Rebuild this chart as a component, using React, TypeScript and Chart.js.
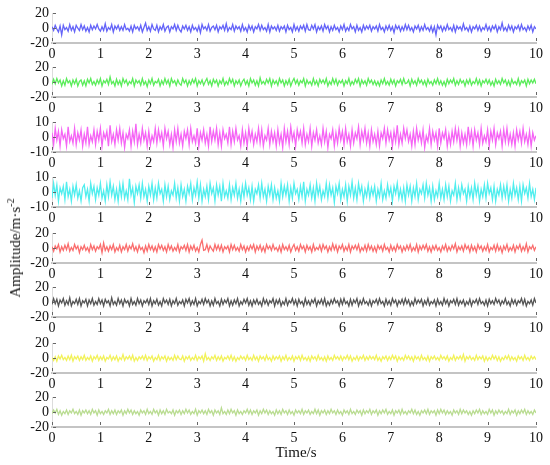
import React, { useEffect, useRef } from "react";
import { Chart, registerables } from "chart.js";

Chart.register(...registerables);

const timeStep = 1 / 30;
const xTicks = [0, 1, 2, 3, 4, 5, 6, 7, 8, 9, 10];
const seriesNames = ["s1", "s2", "s3", "s4", "s5", "s6", "s7", "s8"];
const yLimits = [20, 20, 10, 10, 20, 20, 20, 20];
const panelTops = [12, 66, 121, 176, 232, 286, 342, 396];
const colors = [
  "rgb(100,100,248)",
  "rgb(90,236,90)",
  "rgb(245,100,245)",
  "rgb(80,238,238)",
  "rgb(250,110,110)",
  "rgb(85,85,85)",
  "rgb(242,242,90)",
  "rgb(185,220,145)",
];

const s1 = [
  2,-3,4,-1,-5,3,-9,4,-2,1,-4,5,-3,2,-5,4,0,-3,5,-2,
  3,-4,1,-5,4,-2,3,-1,5,-1,-4,2,-3,6,-4,1,-2,5,-5,3,
  -1,4,-3,2,-3,5,-2,0,-4,3,-5,4,-1,2,-3,4,-5,1,7,-3,
  2,-4,5,-1,-3,4,-5,2,-2,5,-4,1,3,-5,2,-1,5,-3,4,-2,
  -5,3,-1,4,-3,2,-5,4,-2,1,-4,3,-6,5,-1,2,-3,5,-4,1,
  3,-2,4,-5,2,-1,4,-3,6,-4,1,-2,5,-4,3,-1,2,-4,5,-3,
  1,-5,4,-2,3,-5,2,-1,5,-3,4,-2,1,-4,5,-5,3,-1,2,-3,
  4,-4,2,-1,3,-5,4,-2,1,-5,5,-3,2,-4,3,-1,4,-4,5,-2,
  -3,4,-1,5,-5,2,-2,3,-4,5,-1,3,-5,2,-3,4,-2,1,-5,3,
  -2,5,-4,1,-3,5,-1,2,-5,4,-3,1,-5,4,-2,3,-1,4,-4,2,
  -1,3,-4,5,-2,1,-5,3,-2,4,-3,2,-6,4,-1,3,-4,2,-3,5,
  -2,4,-3,1,-5,3,-1,4,-4,2,-3,5,-2,1,-4,3,-5,2,-9,4,
  -1,3,-4,2,-3,5,-2,1,-4,4,-5,3,-1,2,-3,6,-2,1,-4,3,
  -5,2,-1,4,-3,3,-4,1,-2,5,-3,2,-4,3,-1,4,-5,2,-2,7,
  -3,1,-4,4,-2,3,-5,2,-1,4,-3,5,-2,1,-4,3,-2,4,-5,2,
  -1,
];
const s2 = [
  -3,4,-2,5,-1,3,-5,2,-4,5,-1,2,-5,3,-2,4,-5,1,3,-4,
  2,-5,4,-1,5,-3,1,-4,3,-2,5,-5,2,-1,4,-3,7,-2,1,-5,
  4,-3,2,-5,5,-1,3,-4,1,-2,5,-5,3,-1,2,-4,5,-3,1,-6,
  3,-2,5,-4,1,-1,4,-5,2,-3,5,-2,3,-5,5,-1,2,-4,3,-2,
  -4,5,-1,3,-5,2,-3,4,-1,5,-5,2,-2,3,-4,1,5,-3,2,-5,
  4,-1,3,-5,2,-2,5,-4,1,-3,5,-1,4,-5,2,-2,3,-5,1,4,
  -3,2,-5,5,-1,3,-4,2,-5,6,-2,1,-3,4,-1,5,-5,3,-2,2,
  -4,5,-1,3,-5,2,-3,4,-5,1,5,-2,3,-4,2,-1,5,-5,3,-2,
  1,-4,5,-3,2,-5,4,-1,3,-2,5,-5,1,-3,5,-2,4,-4,2,-1,
  3,-5,2,-2,5,-4,1,-3,4,-1,5,-5,3,-2,2,-4,5,-1,3,-3,
  2,-4,1,-5,3,-2,5,-3,1,-4,4,-2,3,-5,2,-1,4,-3,5,-2,
  -1,3,-5,4,-2,2,-4,5,-1,3,-3,2,-5,4,-2,1,-4,3,-2,5,
  -3,2,-4,1,-5,4,-2,3,-1,5,-4,2,-3,4,-1,2,-5,3,-2,4,
  -4,1,-2,5,-3,3,-5,2,-1,4,-2,3,-4,1,-5,4,-2,2,-3,5,
  -1,3,-4,2,-5,4,-2,1,-3,5,-4,2,-1,3,-5,4,-2,3,-1,4,
  -2,
];
const s3 = [
  3,-5,6,-2,4,-6,5,-1,2,-6,7,-3,1,-4,6,-5,3,-2,5,-6,
  2,-4,7,-5,1,-3,5,-5,4,-2,6,-6,3,-1,4,-6,8,-3,2,-5,
  5,-2,6,-4,3,-7,2,-1,5,-6,4,-3,9,-5,2,-4,6,-2,3,-6,
  4,-5,1,-3,6,-4,5,-2,3,-6,6,-1,4,-5,2,-7,5,-3,6,-4,
  2,-6,4,-1,5,-5,6,-3,1,-4,6,-6,3,-2,5,-4,2,-6,7,-3,
  4,-2,6,-5,3,-6,5,-1,2,-4,7,-5,4,-3,6,-2,1,-6,5,-4,
  3,-6,6,-2,4,-5,2,-3,6,-4,5,-6,1,-2,6,-5,4,-3,3,-6,
  5,-4,2,-7,6,-3,4,-5,7,-2,3,-6,5,-1,4,-4,6,-5,2,-3,
  6,-6,3,-2,5,-4,1,-5,6,-3,4,-7,2,-1,5,-6,3,-4,6,-2,
  4,-5,6,-3,2,-6,5,-4,3,-1,7,-5,4,-2,6,-4,3,-6,5,-3,
  2,-5,4,-6,3,-1,6,-4,5,-2,3,-6,4,-3,8,-5,2,-4,6,-1,
  5,-3,2,-6,4,-5,6,-2,3,-4,5,-7,1,-3,6,-5,4,-2,3,-6,
  6,-4,3,-1,5,-6,2,-5,4,-3,6,-2,5,-6,3,-4,2,-5,7,-3,
  4,-6,5,-2,3,-5,6,-4,1,-3,5,-6,4,-2,6,-5,3,-1,4,-6,
  5,-3,6,-4,2,-5,3,-6,5,-2,4,-4,6,-3,2,-5,4,-6,3,-2,
  1,
];
const s4 = [
  -4,6,-2,5,-6,3,-1,4,-5,7,-3,2,-6,4,-2,5,-4,1,-6,3,
  5,-3,2,-6,6,-1,4,-5,3,-2,6,-4,1,-6,5,-3,7,-2,4,-5,
  2,-6,5,-3,6,-4,1,-5,9,-2,3,-7,4,-1,5,-4,6,-3,2,-6,
  4,-2,6,-5,3,-4,6,-1,2,-6,5,-3,4,-5,1,-2,6,-4,3,-6,
  5,-3,2,-6,4,-1,6,-5,3,-2,7,-4,5,-6,2,-3,4,-5,6,-1,
  3,-6,5,-2,4,-6,6,-3,1,-4,5,-5,3,-2,6,-4,2,-6,4,-3,
  6,-2,3,-5,4,-6,2,-1,5,-4,6,-3,2,-6,4,-2,5,-5,3,-4,
  1,-6,6,-3,4,-2,5,-6,3,-4,6,-1,2,-5,4,-3,7,-6,2,-2,
  5,-4,3,-6,6,-2,4,-5,1,-3,6,-4,5,-2,3,-7,4,-1,6,-5,
  2,-3,5,-6,4,-2,7,-4,3,-5,6,-1,4,-6,2,-3,5,-4,3,-2,
  4,-6,2,-3,6,-5,1,-4,5,-2,3,-6,4,-1,6,-4,2,-5,3,-6,
  5,-2,4,-6,3,-3,6,-5,2,-1,5,-4,6,-2,3,-6,4,-5,1,-3,
  6,-4,2,-5,5,-3,4,-6,1,-2,6,-5,3,-4,5,-1,2,-6,4,-3,
  3,-5,6,-2,4,-6,2,-3,5,-4,6,-1,3,-5,4,-6,2,-2,5,-4,
  4,-3,5,-6,2,-4,6,-2,3,-5,4,-6,5,-1,3,-4,6,-3,2,-5,
  3,
];
const s5 = [
  2,-4,3,-1,5,-5,2,-3,4,-2,6,-4,1,-3,5,-1,3,-6,2,-2,
  4,-3,1,-5,5,-2,3,-4,2,-1,5,-6,7,-3,2,-4,3,-2,5,-5,
  1,-3,4,-5,2,-2,5,-4,3,-1,6,-3,2,-5,4,-2,1,-6,3,-4,
  5,-2,3,-4,2,-5,5,-1,4,-3,2,-5,5,-2,3,-4,1,-3,5,-5,
  2,-1,4,-3,5,-5,3,-2,4,-4,1,-5,5,11,-3,-2,5,-4,3,-1,
  -4,5,-2,4,-3,4,-5,2,-1,3,-5,5,-2,4,-3,1,-4,5,-2,3,
  -5,2,-3,4,-1,5,-5,3,-2,4,-4,2,-5,5,-1,3,-3,5,-2,1,
  -4,3,-5,5,-2,2,-3,4,-5,1,5,-3,2,-4,5,-1,3,-5,4,-2,
  2,-5,5,-3,1,-2,4,-4,5,-1,3,-5,2,-3,6,-2,4,-5,3,-1,
  5,-4,2,-3,5,-5,3,-1,4,-2,5,-5,1,-3,4,-4,5,-2,3,-4,
  2,-5,4,-1,3,-4,5,-2,1,-5,4,-3,2,-4,5,-1,3,-5,2,-3,
  4,-2,5,-4,1,-3,5,-5,3,-2,4,-1,5,-4,2,-5,3,-2,4,-3,
  1,-5,3,-2,5,-4,2,-3,4,-1,6,-5,2,-2,3,-4,5,-1,3,-5,
  4,-3,2,-5,5,-1,3,-4,2,-3,5,-5,1,-2,4,-4,5,-3,2,-6,
  3,-2,5,-4,1,-3,4,-5,3,-1,5,-4,2,-3,6,-5,2,-1,4,-3,
  2,
];
const s6 = [
  -3,5,-2,4,-5,3,-1,5,-4,2,-3,6,-5,1,-2,4,-3,5,-5,2,
  -1,4,-5,3,-2,5,-4,1,-3,5,-2,3,-5,4,-1,2,-5,6,-3,1,
  -4,5,-2,3,-5,4,-1,2,-5,5,-3,1,-4,5,-2,3,-5,2,-1,4,
  -3,5,-5,2,-2,4,-4,1,-5,5,-1,3,-3,4,-5,2,-2,5,-4,1,
  -2,3,-5,4,-1,5,-4,2,-3,5,-5,1,-2,4,-3,5,-1,3,-5,2,
  -4,5,-2,1,-5,4,-3,3,-1,5,-5,2,-4,3,-2,5,-5,1,-3,4,
  -1,5,-4,2,-5,3,-2,4,-3,1,-5,5,-2,3,-4,2,-1,5,-5,3,
  -2,4,-5,1,-3,5,-4,2,-1,5,-3,3,-5,4,-2,1,-5,5,-3,2,
  -4,3,-1,5,-5,2,-2,4,-3,5,-5,1,-4,3,-2,5,-1,2,-5,4,
  -3,5,-2,1,-5,4,-4,3,-1,5,-5,2,-3,5,-2,1,-4,3,-5,2,
  -1,4,-3,5,-2,1,-5,4,-3,2,-4,5,-1,3,-5,2,-2,4,-3,5,
  -2,3,-5,1,-4,5,-2,3,-1,4,-5,2,-3,5,-4,1,-2,3,-5,4,
  -3,1,-4,5,-2,3,-5,2,-1,4,-3,5,-4,2,-2,3,-5,1,-3,4,
  -5,2,-1,4,-3,5,-2,1,-4,3,-5,4,-2,2,-3,5,-1,3,-4,2,
  -2,5,-3,1,-5,4,-2,3,-4,2,-1,5,-3,4,-5,1,-2,3,-4,5,
  -1,
];
const s7 = [
  1,-3,2,-4,3,-1,4,-2,1,-3,3,-2,4,-4,2,-1,3,-3,2,-2,
  4,-3,1,-2,3,-4,2,-1,4,-3,2,-2,3,-4,1,-1,4,-3,2,-2,
  3,-4,1,-2,5,-3,2,-1,3,-2,4,-4,1,-3,2,-1,3,-2,4,-3,
  2,-1,3,-4,1,-2,4,-3,2,-1,3,-4,2,-2,1,-3,4,-2,3,-1,
  -2,3,-4,2,-1,3,-3,1,-2,4,-3,2,-1,3,-4,6,-2,1,-3,2,
  -1,4,-3,2,-2,3,-4,1,-1,3,-2,4,-3,2,-4,1,-2,3,-1,2,
  -3,4,-2,1,-3,4,-2,2,-4,3,-1,2,-3,4,-2,1,-4,3,-2,2,
  -1,3,-4,2,-2,4,-3,1,-2,3,-4,2,-1,3,-3,4,-2,1,-3,2,
  -4,3,-1,2,-3,4,-2,1,-3,2,-4,3,-2,1,-3,4,-1,2,-2,3,
  -3,2,-1,4,-2,3,-4,1,-2,3,-3,2,-1,4,-3,2,-2,3,-1,2,
  -2,4,-3,1,-4,2,-1,3,-3,2,-2,4,-1,3,-4,2,-2,1,-3,4,
  -1,3,-2,2,-4,3,-1,2,-3,4,-2,1,-3,3,-4,2,-1,3,-2,1,
  -3,4,-1,2,-2,3,-4,1,-2,4,-3,2,-1,3,-2,5,-4,2,-1,3,
  -2,1,-3,4,-2,2,-1,3,-4,2,-3,1,-2,4,-1,3,-3,2,-4,1,
  -2,3,-1,4,-3,2,-2,1,-4,3,-1,2,-3,4,-2,1,-3,3,-1,2,
  -2,
];
const s8 = [
  -2,3,-1,4,-3,2,-4,1,-2,3,-3,2,-1,4,-2,1,-3,3,-4,2,
  -1,3,-2,2,-3,4,-1,2,-4,3,-2,1,-3,2,-1,4,-3,2,-2,3,
  -3,2,-1,3,-4,2,-2,4,-1,3,-3,2,-2,1,-4,3,-1,2,-3,4,
  -2,1,-3,4,-1,2,-4,3,-2,2,-3,4,-1,1,-2,3,-4,2,-1,3,
  -3,2,-2,4,-1,3,-3,1,-2,4,-4,2,-1,3,-2,2,-3,4,-1,2,
  -4,3,-1,2,-3,6,-2,1,-3,3,-2,4,-1,2,-4,3,-2,1,-3,2,
  -1,4,-2,3,-3,2,-1,3,-4,2,-2,4,-1,3,-3,2,-2,1,-4,3,
  -2,2,-3,4,-1,2,-3,3,-2,1,-4,3,-1,2,-2,4,-3,2,-1,3,
  -3,1,-2,4,-2,3,-4,2,-1,3,-3,2,-2,4,-1,2,-3,3,-2,1,
  -4,3,-1,2,-3,4,-2,1,-3,3,-1,2,-4,3,-2,2,-1,4,-3,2,
  -1,3,-4,2,-2,3,-1,4,-3,1,-2,3,-4,2,-1,3,-3,4,-2,1,
  -3,2,-1,4,-2,3,-3,1,-4,2,-1,3,-2,4,-3,2,-1,2,-4,3,
  -2,4,-1,3,-3,2,-2,1,-4,3,-1,2,-3,4,-2,3,-1,2,-3,1,
  -4,2,-2,3,-1,4,-3,2,-2,1,-3,4,-1,3,-4,2,-2,3,-1,2,
  -3,1,-2,4,-3,2,-1,3,-4,2,-2,3,-1,4,-3,2,-2,1,-3,3,
  -1,
];
const allSeries = [s1, s2, s3, s4, s5, s6, s7, s8];

const FONT = "'Liberation Serif', 'Times New Roman', serif";
const PAD_TOP = 10;
const PLOT_H = 31;
const XAXIS_H = 20;
const CANVAS_H = PAD_TOP + PLOT_H + XAXIS_H;

const innerTicks = {
  id: "innerTicks",
  afterDraw(chart: any) {
    const { ctx, chartArea, scales } = chart;
    const xs = scales.x;
    const ys = scales.y;
    ctx.save();
    ctx.strokeStyle = "#666";
    ctx.lineWidth = 1;
    ctx.beginPath();
    xs.ticks.forEach((t: any) => {
      const px = Math.round(xs.getPixelForValue(t.value)) + 0.5;
      ctx.moveTo(px, chartArea.bottom - 2);
      ctx.lineTo(px, chartArea.bottom - 5);
    });
    ys.ticks.forEach((t: any) => {
      const py = Math.round(ys.getPixelForValue(t.value)) + 0.5;
      ctx.moveTo(chartArea.left + 1, py);
      ctx.lineTo(chartArea.left + 4, py);
    });
    ctx.stroke();
    ctx.restore();
  },
};

function Panel({ idx }: { idx: number }) {
  const ref = useRef<HTMLCanvasElement | null>(null);
  useEffect(() => {
    if (!ref.current) return;
    const series = allSeries[idx];
    const lim = yLimits[idx];
    const chart = new Chart(ref.current, {
      type: "line",
      data: {
        datasets: [
          {
            label: seriesNames[idx],
            data: series.map((v, i) => ({ x: i * timeStep, y: v })),
            borderColor: colors[idx],
            borderWidth: 1.3,
            pointRadius: 0,
            tension: 0,
            fill: false,
          },
        ],
      },
      options: {
        animation: false,
        responsive: false,
        devicePixelRatio: 1,
        events: [],
        layout: { padding: { top: PAD_TOP, right: 14, left: 0, bottom: 0 } },
        plugins: { legend: { display: false }, tooltip: { enabled: false } },
        scales: {
          x: {
            type: "linear",
            min: 0,
            max: 10,
            afterFit: (s: any) => {
              s.height = XAXIS_H;
            },
            afterBuildTicks: (s: any) => {
              s.ticks = xTicks.map((v) => ({ value: v }));
            },
            grid: { display: false, drawTicks: false },
            border: { display: true, color: "#c4c4c4", width: 2 },
            ticks: {
              padding: 3,
              maxRotation: 0,
              autoSkip: false,
              color: "#111",
              font: { family: FONT, size: 14 },
            },
          },
          y: {
            min: -lim,
            max: lim,
            afterFit: (s: any) => {
              s.width = 52;
            },
            afterBuildTicks: (s: any) => {
              s.ticks = [-lim, 0, lim].map((v) => ({ value: v }));
            },
            grid: { display: false, drawTicks: false },
            border: { display: true, color: "#dcdcdc", width: 1 },
            ticks: {
              padding: 3,
              autoSkip: false,
              color: "#111",
              font: { family: FONT, size: 14 },
            },
          },
        },
      },
      plugins: [innerTicks],
    } as any);
    return () => chart.destroy();
  }, [idx]);
  return (
    <canvas
      ref={ref}
      width={550}
      height={CANVAS_H}
      style={{
        position: "absolute",
        left: 0,
        top: panelTops[idx] - PAD_TOP,
        width: 550,
        height: CANVAS_H,
      }}
    />
  );
}

export default function App() {
  return (
    <div
      style={{
        position: "absolute",
        left: 0,
        top: 0,
        width: 550,
        height: 465,
        background: "#fff",
        overflow: "hidden",
        fontFamily: FONT,
      }}
    >
      {allSeries.map((_, i) => (
        <Panel key={i} idx={i} />
      ))}
      <div
        style={{
          position: "absolute",
          left: 13,
          top: 248,
          transform: "translate(-50%, -50%) rotate(-90deg)",
          whiteSpace: "nowrap",
          fontSize: 15,
          color: "#111",
          lineHeight: "16px",
        }}
      >
        Amplitude/m·s<sup style={{ fontSize: 10, verticalAlign: "6px" }}>-2</sup>
      </div>
      <div
        style={{
          position: "absolute",
          left: 296,
          top: 452,
          transform: "translate(-50%, -50%)",
          whiteSpace: "nowrap",
          fontSize: 15,
          color: "#111",
          lineHeight: "16px",
        }}
      >
        Time/s
      </div>
    </div>
  );
}
